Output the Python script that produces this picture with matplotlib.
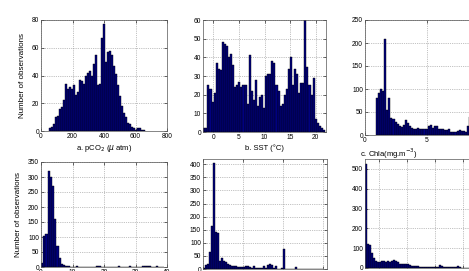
import numpy as np
import matplotlib
matplotlib.use("Agg")
import matplotlib.pyplot as plt

plt.rcParams["font.family"] = ["Liberation Sans", "DejaVu Sans"]

# ==================================================
# DATOS
# ==================================================
# a. pCO2
pco2_start, pco2_width = 53.0, 12.7
pco2_counts = [2, 3, 5, 10, 11, 16, 17, 22, 34, 30, 32, 30, 33, 26, 28, 37, 36, 34,
               40, 42, 43, 40, 48, 55, 33, 34, 67, 77, 50, 57, 58, 55, 47, 41, 33,
               25, 18, 13, 10, 6, 5, 3, 2, 1, 2, 2, 1, 1]

# b. SST
sst_start, sst_width = -1.95, 0.4025
sst_counts = [2, 2, 25, 23, 16, 21, 37, 34, 33, 48, 47, 46, 40, 42, 36, 24, 25, 27,
              24, 25, 25, 15, 41, 22, 17, 28, 14, 19, 20, 13, 30, 31, 31, 38, 37,
              25, 22, 14, 15, 20, 23, 34, 40, 25, 34, 31, 21, 26, 26, 60, 35, 25,
              20, 29, 7, 5, 3, 2, 1]

# c. Chla
chla_start, chla_width = 0.88, 1 / 6
chla_counts = [80, 92, 100, 95, 208, 55, 80, 38, 35, 28, 25, 20, 17, 22, 33, 27, 20,
               15, 14, 12, 15, 14, 12, 14, 13, 20, 22, 15, 20, 20, 14, 12, 13, 11,
               10, 12, 6, 6, 7, 8, 10, 8, 8, 6, 20, 40, 30, 20]

# d. (fila inferior izquierda)
d_width = 0.7
d_counts = [15, 105, 110, 320, 300, 270, 160, 70, 30, 10, 6, 3, 2, 0, 0, 0, 2, 0,
            0, 0, 0, 0, 0, 0, 0, 3, 2, 0, 0, 0, 0, 0, 0, 0, 0, 3, 0, 0, 0, 0, 2, 0,
            0, 0, 0, 0, 3, 2, 2, 4, 0, 0, 2, 0, 0, 0]

# e. (fila inferior centro)
e_counts = [5, 15, 20, 65, 165, 405, 140, 137, 30, 42, 30, 25, 20, 15, 12, 10, 10,
            8, 8, 6, 6, 10, 12, 8, 5, 10, 3, 4, 2, 3, 12, 5, 15, 18, 14, 5, 12, 0,
            0, 3, 75, 0, 0, 0, 0, 0, 8, 0, 0, 0, 0, 0, 0, 0, 0, 0, 0, 0, 0, 0]

# f. (fila inferior derecha)
f_counts = [525, 120, 118, 75, 50, 35, 30, 32, 35, 33, 30, 33, 30, 35, 40, 35, 30,
            22, 20, 20, 18, 18, 15, 12, 10, 12, 8, 6, 5, 5, 4, 4, 4, 5, 5, 3, 4, 15,
            10, 5, 3, 3, 3, 3, 3, 5, 8, 3, 2, 2, 1, 1, 1]

# ==================================================
# FIGURA
# ==================================================
W, H = 469, 271
fig = plt.figure(figsize=(W / 100, H / 100), dpi=100)


def add_ax(left, right, top, bottom):
    return fig.add_axes([left / W, 1 - bottom / H, (right - left) / W, (bottom - top) / H])


BAR = "#000080"
FS = 4.8


def style(ax):
    ax.grid(True, linestyle=":", color="#888888", linewidth=0.5)
    ax.set_axisbelow(True)
    ax.tick_params(direction="in", labelsize=FS, length=2, width=0.4, pad=1.5,
                   top=True, right=True)
    for s in ax.spines.values():
        s.set_color("#555555")
        s.set_linewidth(0.5)


def hbars(ax, start, width, counts):
    x = start + width * np.arange(len(counts))
    ax.bar(x, counts, width=width, align="edge", color=BAR, edgecolor="black", linewidth=0.3)


# a. pCO2
ax1 = add_ax(41, 167, 20, 131)
hbars(ax1, pco2_start, pco2_width, pco2_counts)
ax1.set_xlim(0, 800)
ax1.set_ylim(0, 80)
ax1.set_xticks([0, 200, 400, 600, 800])
ax1.set_yticks([0, 20, 40, 60, 80])
ax1.set_xlabel(r"a. pCO$_2$ ($\mu$ atm)", fontsize=5.5, labelpad=2)
ax1.set_ylabel("Number of observations", fontsize=5.8, labelpad=4)
style(ax1)

# b. SST
ax2 = add_ax(203, 326, 20, 132)
hbars(ax2, sst_start, sst_width, sst_counts)
ax2.set_xlim(-2, 22)
ax2.set_ylim(0, 60)
ax2.set_xticks([0, 5, 10, 15, 20])
ax2.set_yticks([0, 10, 20, 30, 40, 50, 60])
ax2.set_xlabel("b. SST (°C)", fontsize=5.5, labelpad=2)
style(ax2)

# c. Chla
ax3 = add_ax(365, 489, 20, 135)
hbars(ax3, chla_start, chla_width, chla_counts)
ax3.set_xlim(0, 10)
ax3.set_ylim(0, 250)
ax3.set_xticks([0, 5, 10])
ax3.set_yticks([0, 50, 100, 150, 200, 250])
ax3.set_xlabel(r"c. Chla(mg.m$^{-3}$)", fontsize=5.5, labelpad=3)
ax3.xaxis.set_label_coords(0.19, -0.1)
style(ax3)

# d.
ax4 = add_ax(41, 167, 162, 267)
hbars(ax4, 0.0, d_width, d_counts)
ax4.set_xlim(0, 40)
ax4.set_ylim(0, 350)
ax4.set_xticks([0, 10, 20, 30, 40])
ax4.set_yticks([0, 50, 100, 150, 200, 250, 300, 350])
ax4.set_ylabel("Number of observations", fontsize=5.8, labelpad=4)
style(ax4)

# e.
ax5 = add_ax(203, 327, 159, 269)
hbars(ax5, 0.0, 1.0, e_counts)
ax5.set_xlim(0, 62)
ax5.set_ylim(0, 420)
ax5.set_xticks([0, 20, 40, 60])
ax5.set_yticks([0, 50, 100, 150, 200, 250, 300, 350, 400])
style(ax5)

# f.
ax6 = add_ax(365, 489, 159, 268)
hbars(ax6, 0.0, 1.0, f_counts)
ax6.set_xlim(0, 62)
ax6.set_ylim(0, 550)
ax6.set_xticks([7, 21, 35, 49])
ax6.set_xticklabels(["", "", "", ""])
ax6.set_yticks([0, 100, 200, 300, 400, 500])
style(ax6)

fig.savefig("out.png", dpi=100)
